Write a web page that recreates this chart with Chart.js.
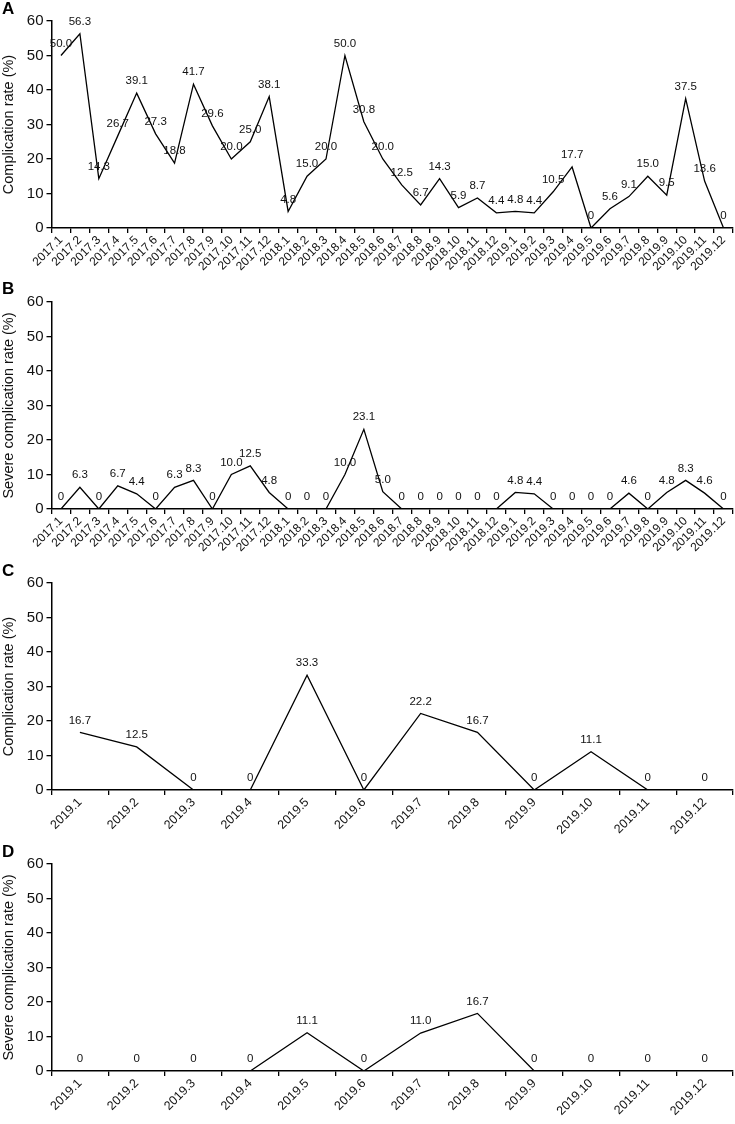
<!DOCTYPE html>
<html>
<head>
<meta charset="utf-8">
<script src="https://cdn.jsdelivr.net/npm/chart.js@4"></script>
<style>
  body { margin: 0; background: #fff; }
  .panel { position: absolute; left: 0; width: 735px; height: 281px; }
  .letter { position: absolute; left: 2px; font: bold 17px/17px "Liberation Sans", Arial, sans-serif; color: #000; }
</style>
</head>
<body>
<div class="panel" style="top:0px"><canvas id="chartA"></canvas></div>
<div class="panel" style="top:281px"><canvas id="chartB"></canvas></div>
<div class="panel" style="top:562px"><canvas id="chartC"></canvas></div>
<div class="panel" style="top:843px"><canvas id="chartD"></canvas></div>
<div class="letter" style="top:0px">A</div>
<div class="letter" style="top:280px">B</div>
<div class="letter" style="top:562px">C</div>
<div class="letter" style="top:843px">D</div>
<script>
// months for panels A and B (2017.1 - 2019.12)
const monthsAB = [
  "2017.1", "2017.2", "2017.3", "2017.4", "2017.5", "2017.6",
  "2017.7", "2017.8", "2017.9", "2017.10", "2017.11", "2017.12",
  "2018.1", "2018.2", "2018.3", "2018.4", "2018.5", "2018.6",
  "2018.7", "2018.8", "2018.9", "2018.10", "2018.11", "2018.12",
  "2019.1", "2019.2", "2019.3", "2019.4", "2019.5", "2019.6",
  "2019.7", "2019.8", "2019.9", "2019.10", "2019.11", "2019.12",
];
const complicationA = [
  50.0, 56.3, 14.3, 26.7, 39.1, 27.3, 18.8, 41.7, 29.6, 20.0, 25.0, 38.1,
  4.8, 15.0, 20.0, 50.0, 30.8, 20.0, 12.5, 6.7, 14.3, 5.9, 8.7, 4.4,
  4.8, 4.4, 10.5, 17.7, 0, 5.6, 9.1, 15.0, 9.5, 37.5, 13.6, 0,
];
const severeB = [
  0, 6.3, 0, 6.7, 4.4, 0, 6.3, 8.3, 0, 10.0, 12.5, 4.8,
  0, 0, 0, 10.0, 23.1, 5.0, 0, 0, 0, 0, 0, 0,
  4.8, 4.4, 0, 0, 0, 0, 4.6, 0, 4.8, 8.3, 4.6, 0,
];

// months for panels C and D (2019 only)
const months2019 = [
  "2019.1", "2019.2", "2019.3", "2019.4", "2019.5", "2019.6",
  "2019.7", "2019.8", "2019.9", "2019.10", "2019.11", "2019.12",
];
const complicationC = [16.7, 12.5, 0, 0, 33.3, 0, 22.2, 16.7, 0, 11.1, 0, 0];
const severeD = [0, 0, 0, 0, 11.1, 0, 11.0, 16.7, 0, 0, 0, 0];

const yMin = 0;
const yMax = 60;
const yStep = 10;

Chart.defaults.font.family = "'Liberation Sans', Arial, sans-serif";
Chart.defaults.color = "#111";

// writes the value above every point of the line
const valueLabels = {
  id: "valueLabels",
  afterDatasetsDraw(chart) {
    const ctx = chart.ctx;
    const meta = chart.getDatasetMeta(0);
    const values = chart.data.datasets[0].data;
    ctx.save();
    ctx.font = "11.5px 'Liberation Sans', Arial, sans-serif";
    ctx.fillStyle = "#111";
    ctx.textAlign = "center";
    ctx.textBaseline = "middle";
    meta.data.forEach((pt, i) => {
      const v = values[i];
      const txt = v === 0 ? "0" : v.toFixed(1);
      ctx.fillText(txt, pt.x, pt.y - 12);
    });
    ctx.restore();
  },
};

function makeChart(id, labels, values, title, labelSize) {
  const ctx = document.getElementById(id).getContext("2d");
  return new Chart(ctx, {
    type: "line",
    data: {
      labels: labels,
      datasets: [
        {
          data: values,
          borderColor: "#000",
          borderWidth: 1.3,
          pointRadius: 0,
          tension: 0,
          fill: false,
        },
      ],
    },
    options: {
      responsive: true,
      maintainAspectRatio: false,
      animation: false,
      events: [],
      layout: { padding: { top: 21, right: 2, left: 0, bottom: 0 } },
      plugins: { legend: { display: false }, tooltip: { enabled: false } },
      scales: {
        x: {
          type: "category",
          offset: true,
          grid: {
            display: true,
            offset: true,
            drawOnChartArea: false,
            drawTicks: true,
            tickLength: 5,
            color: "#000",
            lineWidth: 1.3,
          },
          border: { display: true, color: "#000", width: 1.5 },
          ticks: {
            autoSkip: false,
            minRotation: 45,
            maxRotation: 45,
            padding: 0,
            color: "#111",
            font: { size: labelSize },
          },
          afterFit(scale) {
            scale.height = 53;
          },
        },
        y: {
          min: yMin,
          max: yMax,
          grid: {
            display: true,
            drawOnChartArea: false,
            drawTicks: true,
            tickLength: 5,
            color: "#000",
            lineWidth: 1.3,
          },
          border: { display: true, color: "#000", width: 1.5 },
          ticks: {
            stepSize: yStep,
            padding: 3,
            color: "#111",
            font: { size: 15 },
          },
          title: {
            display: true,
            text: title,
            color: "#111",
            font: { size: 14.5 },
            padding: { top: 0, bottom: 0 },
          },
          afterFit(scale) {
            scale.width = 51.5;
          },
        },
      },
    },
    plugins: [valueLabels],
  });
}

makeChart("chartA", monthsAB, complicationA, "Complication rate (%)", 12);
makeChart("chartB", monthsAB, severeB, "Severe complication rate (%)", 12);
makeChart("chartC", months2019, complicationC, "Complication rate (%)", 12.5);
makeChart("chartD", months2019, severeD, "Severe complication rate (%)", 12.5);
</script>
</body>
</html>
